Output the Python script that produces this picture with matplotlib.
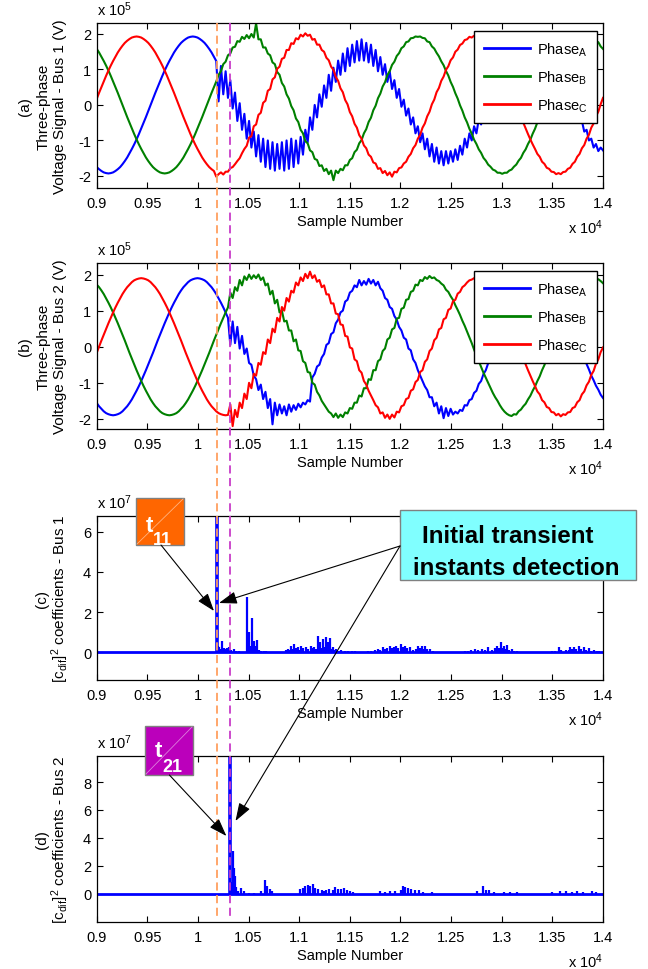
import numpy as np
import matplotlib
matplotlib.use('Agg')
import matplotlib.pyplot as plt
from matplotlib.patches import Rectangle, FancyArrowPatch
from matplotlib.lines import Line2D
import matplotlib.transforms as mtransforms

plt.rcParams['font.family'] = ['Liberation Sans', 'DejaVu Sans']
plt.rcParams['mathtext.fontset'] = 'custom'
plt.rcParams['mathtext.rm'] = 'Liberation Sans'
plt.rcParams['mathtext.it'] = 'Liberation Sans:italic'
plt.rcParams['mathtext.bf'] = 'Liberation Sans:bold'

# ---------------- data (voltages in units of 1e5 V, samples 9000..14000) ----------------
phase_a_bus1 = [
    -1.75, -1.81, -1.86, -1.90, -1.92, -1.93, -1.92, -1.90, -1.86, -1.81,
    -1.75, -1.67, -1.58, -1.48, -1.36, -1.24, -1.11, -0.97, -0.82, -0.66,
    -0.50, -0.34, -0.17, 0.00, 0.17, 0.34, 0.50, 0.66, 0.82, 0.97,
    1.11, 1.24, 1.36, 1.48, 1.58, 1.67, 1.75, 1.81, 1.86, 1.90,
    1.92, 1.93, 1.92, 1.90, 1.86, 1.81, 1.75, 1.67, 1.58, 1.48,
    1.36, 1.24, 0.10, 1.10, 0.30, 0.95, 0.20, 0.70, -0.10, 0.35,
    -0.45, 0.05, -0.70, -0.25, -0.95, -0.45, -1.20, -0.75, -1.45, -0.85,
    -1.60, -0.95, -1.75, -1.00, -1.80, -1.05, -1.85, -1.10, -1.80, -1.05,
    -1.85, -1.00, -1.80, -0.95, -1.75, -1.00, -1.65, -0.90, -1.40, -0.70,
    -1.05, -0.35, -0.70, 0.00, -0.35, 0.30, -0.05, 0.55, 0.20, 0.85,
    0.40, 1.05, 0.65, 1.25, 0.85, 1.45, 0.95, 1.60, 1.10, 1.70,
    1.20, 1.80, 1.25, 1.85, 1.25, 1.75, 1.20, 1.70, 1.10, 1.55,
    0.95, 1.35, 0.85, 1.15, 0.65, 0.95, 0.45, 0.70, 0.20, 0.45,
    -0.05, 0.15, -0.30, -0.10, -0.55, -0.35, -0.80, -0.60, -1.05, -0.80,
    -1.25, -0.95, -1.45, -1.10, -1.60, -1.20, -1.65, -1.30, -1.70, -1.30,
    -1.65, -1.30, -1.60, -1.25, -1.55, -1.15, -1.40, -0.95, -1.20, -0.80,
    -1.00, -0.60, -0.80, -0.40, -0.55, -0.15, -0.25, 0.10, 0.05, 0.35,
    0.30, 0.60, 0.55, 0.85, 0.80, 1.05, 1.00, 1.25, 1.15, 1.40,
    1.30, 1.50, 1.40, 1.55, 1.45, 1.55, 1.45, 1.55, 1.40, 1.50,
    1.30, 1.40, 1.15, 1.25, 0.95, 1.05, 0.80, 0.85, 0.55, 0.60,
    0.30, 0.35, 0.05, 0.10, -0.20, -0.20, -0.50, -0.45, -0.75, -0.70,
    -1.00, -0.95, -1.20, -1.10, -1.30, -1.20, -1.28]

phase_b_bus1 = [
    1.58, 1.48, 1.36, 1.24, 1.11, 0.97, 0.82, 0.66, 0.50, 0.34,
    0.17, 0.00, -0.17, -0.34, -0.50, -0.66, -0.82, -0.97, -1.11, -1.24,
    -1.36, -1.48, -1.58, -1.67, -1.75, -1.81, -1.86, -1.90, -1.92, -1.93,
    -1.92, -1.90, -1.86, -1.81, -1.75, -1.67, -1.58, -1.48, -1.36, -1.24,
    -1.11, -0.97, -0.82, -0.66, -0.50, -0.34, -0.17, 0.00, 0.17, 0.34,
    0.50, 0.66, 0.85, 0.95, 1.15, 1.22, 1.40, 1.45, 1.62, 1.64,
    1.80, 1.78, 1.92, 1.86, 1.97, 1.88, 2.00, 1.90, 2.30, 1.85,
    1.85, 1.62, 1.62, 1.45, 1.40, 1.20, 1.15, 0.93, 0.85, 0.62,
    0.52, 0.30, 0.18, -0.03, -0.15, -0.38, -0.48, -0.70, -0.80, -1.02,
    -1.08, -1.28, -1.33, -1.52, -1.55, -1.72, -1.70, -1.86, -1.80, -1.95,
    -1.85, -2.12, -1.85, -1.92, -1.80, -1.84, -1.70, -1.70, -1.55, -1.50,
    -1.33, -1.26, -1.08, -0.99, -0.80, -0.68, -0.48, -0.36, -0.15, -0.02,
    0.19, 0.32, 0.52, 0.64, 0.84, 0.95, 1.13, 1.22, 1.38, 1.46,
    1.60, 1.65, 1.77, 1.79, 1.88, 1.89, 1.93, 1.92, 1.93, 1.89,
    1.88, 1.79, 1.77, 1.65, 1.59, 1.47, 1.37, 1.23, 1.12, 0.96,
    0.83, 0.65, 0.51, 0.33, 0.18, -0.01, -0.16, -0.35, -0.49, -0.67,
    -0.81, -0.98, -1.10, -1.25, -1.35, -1.49, -1.57, -1.68, -1.74, -1.82,
    -1.85, -1.91, -1.91, -1.94, -1.91, -1.91, -1.85, -1.82, -1.74, -1.68,
    -1.57, -1.49, -1.35, -1.25, -1.10, -0.98, -0.81, -0.67, -0.49, -0.35,
    -0.16, -0.01, 0.18, 0.33, 0.51, 0.65, 0.83, 0.96, 1.12, 1.23,
    1.37, 1.47, 1.59, 1.65, 1.77, 1.79, 1.88, 1.89, 1.93, 1.92,
    1.93, 1.89, 1.88, 1.79, 1.77, 1.65, 1.58]

phase_c_bus1 = [
    0.17, 0.34, 0.50, 0.66, 0.82, 0.97, 1.11, 1.24, 1.36, 1.48,
    1.58, 1.67, 1.75, 1.81, 1.86, 1.90, 1.92, 1.93, 1.92, 1.90,
    1.86, 1.81, 1.75, 1.67, 1.58, 1.48, 1.36, 1.24, 1.11, 0.97,
    0.82, 0.66, 0.50, 0.34, 0.17, 0.00, -0.17, -0.34, -0.50, -0.66,
    -0.82, -0.97, -1.11, -1.24, -1.36, -1.48, -1.58, -1.67, -1.75, -1.81,
    -1.86, -2.02, -1.95, -1.90, -1.96, -1.88, -1.88, -1.78, -1.75, -1.67,
    -1.58, -1.50, -1.36, -1.24, -1.15, -0.92, -0.88, -0.60, -0.55, -0.28,
    -0.22, 0.06, 0.12, 0.40, 0.45, 0.72, 0.78, 1.02, 1.08, 1.30,
    1.33, 1.55, 1.55, 1.74, 1.72, 1.88, 1.85, 1.98, 1.93, 2.02,
    1.95, 1.98, 1.84, 1.86, 1.70, 1.70, 1.55, 1.50, 1.33, 1.26,
    1.08, 0.99, 0.79, 0.68, 0.47, 0.36, 0.14, 0.02, -0.20, -0.32,
    -0.53, -0.64, -0.85, -0.95, -1.14, -1.22, -1.40, -1.46, -1.62, -1.65,
    -1.80, -1.78, -1.92, -1.86, -1.98, -1.90, -2.02, -1.88, -1.90, -1.78,
    -1.76, -1.65, -1.60, -1.46, -1.38, -1.22, -1.13, -0.95, -0.84, -0.64,
    -0.52, -0.32, -0.19, 0.02, 0.15, 0.36, 0.48, 0.68, 0.80, 0.99,
    1.09, 1.26, 1.34, 1.50, 1.56, 1.69, 1.73, 1.83, 1.85, 1.92,
    1.90, 1.95, 1.91, 1.92, 1.86, 1.81, 1.75, 1.67, 1.58, 1.48,
    1.36, 1.24, 1.11, 0.97, 0.82, 0.66, 0.50, 0.34, 0.17, 0.00,
    -0.17, -0.34, -0.50, -0.66, -0.82, -0.97, -1.11, -1.24, -1.38, -1.46,
    -1.60, -1.66, -1.77, -1.80, -1.88, -1.89, -1.95, -1.92, -1.95, -1.89,
    -1.88, -1.80, -1.77, -1.66, -1.60, -1.46, -1.38, -1.22, -1.13, -0.95,
    -0.84, -0.64, -0.52, -0.32, -0.19, 0.02, 0.20]

phase_a_bus2 = [
    -1.56, -1.65, -1.72, -1.79, -1.84, -1.87, -1.89, -1.90, -1.89, -1.87,
    -1.84, -1.79, -1.72, -1.65, -1.56, -1.46, -1.34, -1.22, -1.09, -0.95,
    -0.80, -0.65, -0.49, -0.33, -0.17, 0.00, 0.17, 0.33, 0.49, 0.65,
    0.80, 0.95, 1.09, 1.22, 1.34, 1.46, 1.56, 1.65, 1.72, 1.79,
    1.84, 1.87, 1.89, 1.90, 1.89, 1.87, 1.84, 1.79, 1.72, 1.65,
    1.56, 1.46, 1.34, 1.22, 1.09, 0.95, 0.80, 0.05, 0.70, 0.10,
    0.55, -0.05, 0.30, -0.20, -0.05, -0.45, -0.50, -0.80, -0.90, -1.20,
    -1.05, -1.45, -1.25, -1.70, -1.45, -2.15, -1.55, -1.90, -1.60, -1.85,
    -1.65, -1.90, -1.60, -1.80, -1.62, -1.75, -1.58, -1.68, -1.55, -1.60,
    -1.48, -1.52, -0.85, -0.75, -0.55, -0.50, -0.30, -0.20, 0.05, 0.10,
    0.35, 0.40, 0.65, 0.75, 0.95, 1.00, 1.25, 1.30, 1.50, 1.55,
    1.70, 1.65, 1.85, 1.70, 1.82, 1.72, 1.88, 1.75, 1.85, 1.70,
    1.80, 1.62, 1.55, 1.35, 1.30, 1.10, 1.05, 0.85, 0.75, 0.55,
    0.45, 0.25, 0.20, -0.05, -0.10, -0.35, -0.45, -0.65, -0.80, -0.95,
    -1.10, -1.20, -1.40, -1.40, -1.65, -1.55, -1.85, -1.65, -1.98, -1.70,
    -1.92, -1.72, -1.88, -1.80, -1.85, -1.75, -1.78, -1.62, -1.63, -1.48,
    -1.45, -1.28, -1.22, -1.03, -0.95, -0.76, -0.65, -0.46, -0.34, -0.14,
    0.00, 0.16, 0.32, 0.48, 0.63, 0.78, 0.93, 1.06, 1.19, 1.31,
    1.42, 1.52, 1.60, 1.68, 1.74, 1.79, 1.82, 1.84, 1.85, 1.84,
    1.82, 1.79, 1.74, 1.68, 1.60, 1.52, 1.42, 1.31, 1.19, 1.06,
    0.93, 0.78, 0.63, 0.48, 0.32, 0.16, 0.00, -0.16, -0.32, -0.48,
    -0.63, -0.80, -0.93, -1.08, -1.19, -1.33, -1.42]

phase_b_bus2 = [
    1.72, 1.65, 1.56, 1.46, 1.34, 1.22, 1.09, 0.95, 0.80, 0.65,
    0.49, 0.33, 0.17, 0.00, -0.17, -0.33, -0.49, -0.65, -0.80, -0.95,
    -1.09, -1.22, -1.34, -1.46, -1.56, -1.65, -1.72, -1.79, -1.84, -1.87,
    -1.89, -1.90, -1.89, -1.87, -1.84, -1.79, -1.72, -1.65, -1.56, -1.46,
    -1.34, -1.22, -1.09, -0.95, -0.80, -0.65, -0.49, -0.33, -0.17, 0.00,
    0.17, 0.33, 0.49, 0.65, 0.80, 0.95, 1.09, 1.50, 1.35, 1.65,
    1.55, 1.85, 1.70, 1.95, 1.85, 2.00, 1.88, 1.98, 1.90, 2.00,
    1.85, 1.92, 1.70, 1.75, 1.45, 1.55, 1.20, 1.30, 0.95, 1.00,
    0.70, 0.72, 0.45, 0.45, 0.15, 0.20, -0.10, -0.12, -0.40, -0.45,
    -0.70, -0.72, -1.00, -1.05, -1.25, -1.35, -1.50, -1.60, -1.70, -1.80,
    -1.85, -1.95, -1.85, -1.97, -1.88, -1.95, -1.82, -1.85, -1.70, -1.72,
    -1.55, -1.55, -1.35, -1.38, -1.15, -1.15, -0.90, -0.92, -0.65, -0.65,
    -0.40, -0.35, -0.12, -0.05, 0.20, 0.25, 0.48, 0.52, 0.78, 0.80,
    1.05, 1.08, 1.30, 1.32, 1.52, 1.55, 1.72, 1.70, 1.85, 1.82,
    1.93, 1.88, 1.96, 1.90, 1.92, 1.85, 1.82, 1.75, 1.70, 1.58,
    1.52, 1.40, 1.30, 1.15, 1.02, 0.88, 0.72, 0.58, 0.42, 0.26,
    0.10, -0.08, -0.24, -0.40, -0.56, -0.72, -0.86, -1.00, -1.14, -1.28,
    -1.40, -1.50, -1.62, -1.72, -1.80, -1.86, -1.90, -1.92, -1.87, -1.88,
    -1.79, -1.74, -1.65, -1.58, -1.46, -1.36, -1.22, -1.10, -0.95, -0.82,
    -0.65, -0.51, -0.33, -0.19, 0.00, 0.15, 0.33, 0.47, 0.65, 0.78,
    0.95, 1.07, 1.22, 1.32, 1.46, 1.54, 1.65, 1.70, 1.79, 1.82,
    1.87, 1.87, 1.90, 1.87, 1.87, 1.82, 1.76]

phase_c_bus2 = [
    -0.17, 0.00, 0.17, 0.33, 0.49, 0.65, 0.80, 0.95, 1.09, 1.22,
    1.34, 1.46, 1.56, 1.65, 1.72, 1.79, 1.84, 1.87, 1.89, 1.90,
    1.89, 1.87, 1.84, 1.79, 1.72, 1.65, 1.56, 1.46, 1.34, 1.22,
    1.09, 0.95, 0.80, 0.65, 0.49, 0.33, 0.17, 0.00, -0.17, -0.33,
    -0.49, -0.65, -0.80, -0.95, -1.09, -1.22, -1.34, -1.46, -1.56, -1.65,
    -1.72, -1.79, -1.84, -1.87, -1.89, -1.90, -1.89, -1.60, -2.20, -1.75,
    -1.95, -1.55, -1.70, -1.30, -1.45, -1.00, -1.15, -0.75, -0.80, -0.45,
    -0.50, -0.15, -0.20, 0.20, 0.10, 0.50, 0.40, 0.80, 0.70, 1.10,
    1.00, 1.35, 1.25, 1.55, 1.50, 1.78, 1.70, 1.92, 1.82, 2.02,
    1.90, 2.08, 1.90, 1.98, 1.80, 1.85, 1.65, 1.70, 1.45, 1.45,
    1.20, 1.20, 0.92, 0.90, 0.62, 0.60, 0.30, 0.28, -0.02, -0.05,
    -0.35, -0.40, -0.65, -0.72, -0.95, -1.05, -1.22, -1.35, -1.48, -1.62,
    -1.68, -1.85, -1.82, -1.97, -1.88, -2.00, -1.88, -1.96, -1.80, -1.82,
    -1.65, -1.62, -1.45, -1.42, -1.22, -1.18, -0.98, -0.92, -0.70, -0.65,
    -0.42, -0.35, -0.12, -0.05, 0.18, 0.25, 0.48, 0.52, 0.76, 0.80,
    1.02, 1.06, 1.26, 1.30, 1.47, 1.52, 1.65, 1.70, 1.78, 1.84,
    1.86, 1.90, 1.90, 1.92, 1.88, 1.86, 1.80, 1.74, 1.65, 1.56,
    1.46, 1.34, 1.22, 1.09, 0.95, 0.80, 0.65, 0.49, 0.33, 0.17,
    0.00, -0.17, -0.33, -0.49, -0.65, -0.80, -0.95, -1.09, -1.24, -1.32,
    -1.48, -1.54, -1.67, -1.70, -1.81, -1.82, -1.90, -1.86, -1.93, -1.87,
    -1.89, -1.82, -1.81, -1.70, -1.67, -1.54, -1.48, -1.32, -1.24, -1.07,
    -0.97, -0.78, -0.67, -0.47, -0.35, -0.15, -0.02]

# squared difference coefficients (units of 1e7): spike sample positions and heights
cdif_bus1_pos = [10186, 10195, 10207, 10222, 10240, 10255, 10275, 10290, 10306, 10330,
                 10356, 10380, 10410, 10488, 10498, 10508, 10520, 10531, 10542, 10554,
                 10568, 10581, 10600, 10620, 10650, 10670, 10868, 10885, 10900, 10918,
                 10935, 10951, 10968, 10984, 11000, 11017, 11040, 11067, 11090, 11116,
                 11130, 11149, 11165, 11182, 11195, 11209, 11220, 11232, 11245, 11265,
                 11278, 11288, 11300, 11308, 11320, 11331, 11350, 11364, 11390, 11414,
                 11450, 11480, 11520, 11546, 11678, 11712, 11745, 11778, 11800, 11827,
                 11850, 11870, 11893, 11915, 11940, 11960, 11980, 12003, 12020, 12042,
                 12065, 12092, 12120, 12150, 12175, 12192, 12208, 12225, 12247, 12265,
                 12290, 12320, 12637, 12671, 12700, 12737, 12770, 12803, 12830, 12869,
                 12900, 12930, 12952, 12970, 12991, 13005, 13018, 13035, 13051, 13075,
                 13101, 13125, 13150, 13497, 13530, 13563, 13590, 13630, 13660, 13679,
                 13695, 13712, 13735, 13762, 13785, 13811, 13835, 13861, 13885, 13911,
                 13940, 13960]
cdif_bus1_val = [6.78, 0.30, 0.25, 0.15, 0.58, 0.20, 0.15, 0.22, 0.25, 0.12,
                 0.17, 0.08, 0.05, 2.77, 0.50, 1.00, 0.30, 1.70, 0.40, 0.55,
                 0.30, 0.60, 0.10, 0.08, 0.05, 0.05, 0.10, 0.17, 0.10, 0.33,
                 0.15, 0.41, 0.20, 0.25, 0.12, 0.33, 0.20, 0.28, 0.15, 0.33,
                 0.20, 0.25, 0.15, 0.83, 0.30, 0.50, 0.20, 0.66, 0.25, 0.78,
                 0.30, 0.50, 0.20, 0.71, 0.15, 0.25, 0.10, 0.16, 0.08, 0.10,
                 0.06, 0.08, 0.05, 0.05, 0.05, 0.08, 0.10, 0.16, 0.10, 0.25,
                 0.15, 0.20, 0.33, 0.20, 0.25, 0.33, 0.20, 0.41, 0.25, 0.33,
                 0.20, 0.25, 0.12, 0.15, 0.33, 0.20, 0.33, 0.15, 0.33, 0.15,
                 0.16, 0.06, 0.05, 0.08, 0.10, 0.16, 0.10, 0.16, 0.10, 0.25,
                 0.12, 0.20, 0.33, 0.20, 0.50, 0.20, 0.33, 0.15, 0.37, 0.10,
                 0.16, 0.08, 0.08, 0.05, 0.08, 0.25, 0.10, 0.10, 0.12, 0.25,
                 0.15, 0.28, 0.15, 0.30, 0.15, 0.28, 0.12, 0.20, 0.08, 0.10,
                 0.05, 0.05]

cdif_bus2_pos = [10316, 10340, 10350, 10358, 10365, 10380, 10395, 10428, 10455, 10500,
                 10550, 10620, 10660, 10677, 10713, 10736, 11011, 11034, 11057, 11083,
                 11110, 11133, 11156, 11189, 11222, 11245, 11265, 11298, 11331, 11358,
                 11381, 11414, 11440, 11473, 11497, 11530, 11794, 11844, 11893, 11943,
                 12003, 12026, 12049, 12075, 12108, 12142, 12181, 12224, 12307, 12753,
                 12819, 12843, 12876, 12919, 13018, 13080, 13150, 13497, 13580, 13630,
                 13690, 13745, 13800, 13894, 13930]
cdif_bus2_val = [9.87, 0.80, 3.07, 1.80, 1.24, 0.50, 0.20, 0.41, 0.19, 0.05,
                 0.05, 0.20, 0.96, 0.55, 0.36, 0.19, 0.34, 0.41, 0.53, 0.60,
                 0.53, 0.72, 0.41, 0.34, 0.24, 0.20, 0.29, 0.34, 0.29, 0.48,
                 0.30, 0.34, 0.41, 0.24, 0.17, 0.10, 0.17, 0.10, 0.15, 0.17,
                 0.29, 0.53, 0.48, 0.41, 0.34, 0.29, 0.29, 0.10, 0.08, 0.17,
                 0.53, 0.29, 0.24, 0.08, 0.10, 0.08, 0.08, 0.10, 0.17, 0.17,
                 0.10, 0.17, 0.10, 0.17, 0.10]

t11 = 10188   # first transient instant, bus 1
t21 = 10316   # first transient instant, bus 2

x_ticks = [9000, 9500, 10000, 10500, 11000, 11500, 12000, 12500, 13000, 13500, 14000]
x_tick_labels = ['0.9', '0.95', '1', '1.05', '1.1', '1.15', '1.2', '1.25', '1.3', '1.35', '1.4']
volt_ticks = [-2, -1, 0, 1, 2]
cdif1_ticks = [0, 2, 4, 6]
cdif2_ticks = [0, 2, 4, 6, 8]
legend_labels = ['Phase$_{\\mathrm{A}}$', 'Phase$_{\\mathrm{B}}$', 'Phase$_{\\mathrm{C}}$']

# ---------------- layout ----------------
W, H = 648, 970
fig = plt.figure(figsize=(W / 100, H / 100), dpi=100)

def fx(px):
    return px / W

def fy(py):
    return 1 - py / H

LEFT, RIGHT = 96.7, 603
panels = [(24, 189), (264, 430), (517, 681), (757, 923)]
axes = []
for top, bot in panels:
    ax = fig.add_axes([fx(LEFT), fy(bot), fx(RIGHT) - fx(LEFT), (bot - top) / H])
    axes.append(ax)

FS = 10.5
BLUE, GREEN, RED = '#0000FF', '#008000', '#FF0000'


def style_axis(ax, yticks, ylim, top, bot):
    hpx = bot - top
    ax.set_xlim(9000, 14000)
    ax.set_ylim(*ylim)
    ax.set_xticks(x_ticks)
    ax.set_xticklabels(x_tick_labels)
    ax.set_yticks(yticks)
    ax.set_yticklabels([str(v) for v in yticks])
    ax.tick_params(direction='in', top=True, right=True, length=4, width=0.8,
                   labelsize=FS, pad=4)
    ax.tick_params(axis='x', pad=6)
    for sp in ax.spines.values():
        sp.set_linewidth(0.9)
        sp.set_color('black')
    ax.text(0.5, -33 / hpx, 'Sample Number', transform=ax.transAxes,
            ha='center', va='center', fontsize=FS)
    ax.text(1.0, -39 / hpx, 'x 10$^{4}$', transform=ax.transAxes,
            ha='right', va='center', fontsize=FS)


def ylabel_lines(ax, lines, xs, top, bot):
    yc = fy((top + bot) / 2)
    for txt, xp in zip(lines, xs):
        fig.text(fx(xp), yc, txt, rotation=90, ha='center', va='center', fontsize=11)


def scale_label(ax, exp, top, bot):
    hpx = bot - top
    ax.text(0.0, 1 + 8 / hpx, 'x 10$^{%d}$' % exp, transform=ax.transAxes,
            ha='left', va='baseline', fontsize=FS)


# voltage panels
volt_sets = [
    (phase_a_bus1, phase_b_bus1, phase_c_bus1, (-2.34, 2.31), '1', '(a)'),
    (phase_a_bus2, phase_b_bus2, phase_c_bus2, (-2.28, 2.32), '2', '(b)'),
]
for i, (pa, pb, pc, ylim, bus, tag) in enumerate(volt_sets):
    ax = axes[i]
    top, bot = panels[i]
    handles = []
    for vals, col in [(pa, BLUE), (pb, GREEN), (pc, RED)]:
        xs = np.linspace(9000, 14000, len(vals))
        h, = ax.plot(xs, vals, color=col, lw=1.5)
        handles.append(h)
    style_axis(ax, volt_ticks, ylim, top, bot)
    scale_label(ax, 5, top, bot)
    ylabel_lines(ax, [tag, 'Three-phase', 'Voltage Signal - Bus %s (V)' % bus],
                 [25, 43.5, 60], top, bot)
    hpx = bot - top
    leg = ax.legend(handles, legend_labels, loc='upper right',
                    bbox_to_anchor=(0.988, 1 - 8 / hpx), borderaxespad=0,
                    frameon=True, fancybox=False, edgecolor='black', framealpha=1,
                    fontsize=10.5, handlelength=3.2, labelspacing=0.72,
                    borderpad=0.65, handletextpad=0.45)
    leg.get_frame().set_linewidth(1.0)
    for ln in leg.get_lines():
        ln.set_linewidth(2.0)

# coefficient panels
cdif_sets = [
    (cdif_bus1_pos, cdif_bus1_val, (-1.38, 6.78), cdif1_ticks, '1', '(c)'),
    (cdif_bus2_pos, cdif_bus2_val, (-2.04, 9.87), cdif2_ticks, '2', '(d)'),
]
for j, (pos, val, ylim, yt, bus, tag) in enumerate(cdif_sets):
    ax = axes[2 + j]
    top, bot = panels[2 + j]
    n = min(len(pos), len(val))
    ax.plot([9000, 14000], [0, 0], color=BLUE, lw=2.0)
    ax.vlines(pos[1:n], 0, val[1:n], color=BLUE, lw=1.6)
    ax.vlines(pos[:1], 0, val[:1], color=BLUE, lw=2.6)
    style_axis(ax, yt, ylim, top, bot)
    scale_label(ax, 7, top, bot)
    ylabel_lines(ax, [tag, '[c$_{\\mathrm{dif}}$]$^{2}$ coefficients - Bus %s' % bus],
                 [42.5, 60.5], top, bot)

# dashed instants crossing all panels
trans = mtransforms.blended_transform_factory(axes[0].transData, fig.transFigure)
for s, col in [(t11, '#FF9F5F'), (t21, '#C83CC8')]:
    fig.add_artist(Line2D([s, s], [fy(24), fy(920)], transform=trans, color=col,
                          lw=1.3, ls=(0, (4.5, 2.5)), zorder=10))


def fig_box(x0, y0, x1, y1, fc, ec='#808080', lw=1.0):
    r = Rectangle((fx(x0), fy(y1)), fx(x1) - fx(x0), (y1 - y0) / H,
                  transform=fig.transFigure, facecolor=fc, edgecolor=ec, lw=lw, zorder=20)
    fig.add_artist(r)


def fig_arrow(x0, y0, x1, y1):
    a = FancyArrowPatch((fx(x0), fy(y0)), (fx(x1), fy(y1)), transform=fig.transFigure,
                        arrowstyle='-|>,head_length=1.1,head_width=0.38', mutation_scale=10,
                        lw=0.8, color='black', shrinkA=0, shrinkB=0, zorder=25)
    fig.add_artist(a)


# t11 label box
fig_box(136, 499, 184, 546, '#FF6600')
fig.add_artist(Line2D([fx(137), fx(183)], [fy(545), fy(500)], transform=fig.transFigure,
                      color='white', lw=0.6, alpha=0.5, zorder=20.5))
fig.text(fx(149), fy(532), 't', color='white', fontsize=16, fontweight='bold',
         ha='center', va='baseline', zorder=21)
fig.text(fx(162), fy(545), '11', color='white', fontsize=13, fontweight='bold',
         ha='center', va='baseline', zorder=21)

# t21 label box
fig_box(145, 727, 193, 776, '#BB00BB')
fig.add_artist(Line2D([fx(146), fx(192)], [fy(775), fy(728)], transform=fig.transFigure,
                      color='white', lw=0.6, alpha=0.5, zorder=20.5))
fig.text(fx(158.5), fy(757), 't', color='white', fontsize=16, fontweight='bold',
         ha='center', va='baseline', zorder=21)
fig.text(fx(172), fy(772), '21', color='white', fontsize=13, fontweight='bold',
         ha='center', va='baseline', zorder=21)

# callout
fig_box(400, 511, 636, 581, '#80FFFF')
fig.text(fx(508), fy(543), 'Initial transient', color='black', fontsize=17.4,
         fontweight='bold', ha='center', va='baseline', zorder=21)
fig.text(fx(516.5), fy(575), 'instants detection', color='black', fontsize=17.4,
         fontweight='bold', ha='center', va='baseline', zorder=21)

# arrows
fig_arrow(161, 546, 214, 612)
fig_arrow(400, 547, 219, 604)
fig_arrow(400, 547, 235.5, 822)
fig_arrow(169.4, 776, 226.4, 837)

fig.savefig('out.png', dpi=100)
